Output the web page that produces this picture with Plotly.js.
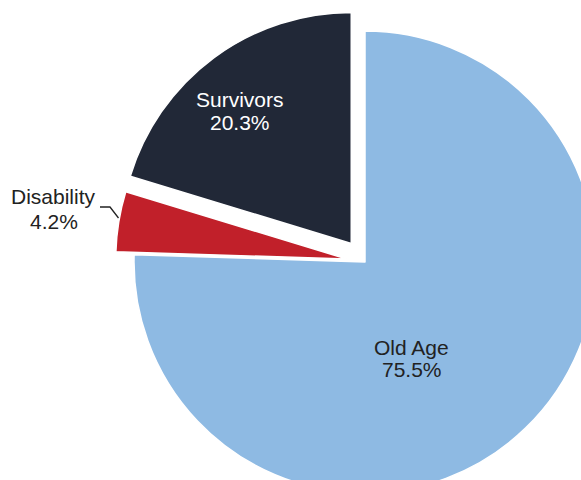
<!DOCTYPE html>
<html>
<head>
<meta charset="utf-8">
<script src="https://cdn.plot.ly/plotly-3.0.1.min.js"></script>
<style>
  html, body { margin: 0; padding: 0; overflow: hidden; background: #fff; }
  #chart { width: 800px; height: 600px; }
</style>
</head>
<body>
<div id="chart"></div>
<script>
// ---- data ----
const labels = ['Old Age', 'Disability', 'Survivors'];
const values = [75.5, 4.2, 20.3];

// ---- style ----
const colors = ['#8EBAE3', '#C1202A', '#212837'];
const pulls = [0, 0.08, 0.10];
const W = 800, H = 600;
const px = x => x / W;
const py = y => 1 - y / H;

const trace = {
  type: 'pie',
  labels: labels,
  values: values,
  sort: false,
  direction: 'clockwise',
  rotation: 0,
  pull: pulls,
  marker: { colors: colors, line: { color: '#ffffff', width: 1.5 } },
  textinfo: 'none',
  hoverinfo: 'skip',
  showlegend: false,
  domain: { x: [0.1386, 0.7739], y: [0.1398, 0.9868] }
};

const pct = values.map(v => v.toFixed(1) + '%');
const font = (c) => ({ family: 'Liberation Sans, Arial, sans-serif', size: 21, color: c });

// label anchor spots (pixel positions of the text lines)
const labelSpots = [
  { x: 411.5, y1: 347.5, y2: 369.5, color: '#222222' },  // Old Age
  { x: 53.5,  y1: 196.5, y2: 221.5, color: '#222222' },  // Disability
  { x: 240,   y1: 99,    y2: 123,   color: '#ffffff' }   // Survivors
];

const annotations = [];
labels.forEach((lab, i) => {
  const s = labelSpots[i];
  annotations.push({ xref: 'paper', yref: 'paper', x: px(s.x), y: py(s.y1), text: lab,
    showarrow: false, xanchor: 'center', yanchor: 'middle', font: font(s.color) });
  annotations.push({ xref: 'paper', yref: 'paper', x: px(s.x), y: py(s.y2), text: pct[i],
    showarrow: false, xanchor: 'center', yanchor: 'middle', font: font(s.color) });
});

const layout = {
  width: W, height: H,
  margin: { l: 0, r: 0, t: 0, b: 0 },
  paper_bgcolor: '#ffffff',
  plot_bgcolor: '#ffffff',
  showlegend: false,
  annotations: annotations,
  shapes: [{
    type: 'path', xref: 'paper', yref: 'paper',
    path: 'M ' + px(100) + ' ' + py(207) + ' L ' + px(110) + ' ' + py(207) + ' L ' + px(118.5) + ' ' + py(218),
    line: { color: '#222222', width: 1.3 }
  }]
};

Plotly.newPlot('chart', [trace], layout, { staticPlot: true, displayModeBar: false });
</script>
</body>
</html>
